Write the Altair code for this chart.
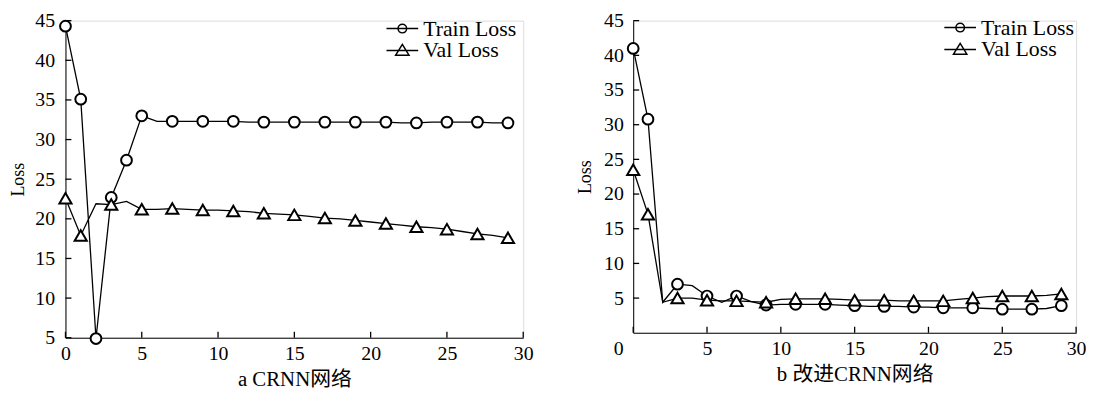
import altair as alt
import pandas as pd

epochs = list(range(30))
series_names = ["Train Loss", "Val Loss"]

a_train = [44.3, 35.1, 4.9, 22.7, 27.4, 33.0, 32.3, 32.3, 32.3, 32.3,
           32.3, 32.3, 32.2, 32.2, 32.2, 32.2, 32.2, 32.2, 32.2, 32.2,
           32.2, 32.2, 32.1, 32.1, 32.2, 32.2, 32.2, 32.2, 32.1, 32.1]
a_val = [22.6, 17.9, 21.9, 21.8, 22.2, 21.2, 21.2, 21.3, 21.2, 21.1,
         21.1, 21.0, 20.9, 20.7, 20.6, 20.5, 20.3, 20.1, 20.0, 19.8,
         19.6, 19.4, 19.2, 19.0, 18.9, 18.7, 18.4, 18.1, 17.9, 17.6]
b_train = [41.0, 30.8, 4.4, 7.0, 6.8, 5.3, 4.4, 5.3, 4.5, 4.0,
           4.1, 4.1, 4.1, 4.1, 4.0, 3.9, 3.8, 3.8, 3.8, 3.7,
           3.7, 3.6, 3.6, 3.6, 3.5, 3.4, 3.4, 3.4, 3.5, 3.9]
b_val = [23.5, 17.1, 4.4, 5.0, 5.0, 4.7, 4.6, 4.6, 4.5, 4.4,
         4.8, 4.9, 4.9, 4.9, 4.8, 4.7, 4.7, 4.7, 4.6, 4.6,
         4.6, 4.6, 4.8, 5.0, 5.2, 5.3, 5.3, 5.3, 5.4, 5.6]

a_train_markers = [0, 1, 2, 3, 4, 5] + list(range(7, 30, 2))
a_val_markers = [0, 1] + list(range(3, 30, 2))
b_train_markers = [0, 1] + list(range(3, 30, 2))
b_val_markers = [0, 1] + list(range(3, 30, 2))

x_ticks = [0, 5, 10, 15, 20, 25, 30]
y_ticks = [5, 10, 15, 20, 25, 30, 35, 40, 45]
a_title = "a CRNN网络"
b_title = "b 改进CRNN网络"

FONT = "Liberation Serif, Noto Sans CJK SC"
BLANK = "\u2800"  # blank glyph used to push the corner "0" to the left

# legend symbols: a short line with the marker on it
r = 0.27
k = round(0.5523 * r, 4)
circle_sym = (f"M-1,0L1,0M{r},0C{r},{k} {k},{r} 0,{r}C{-k},{r} {-r},{k} {-r},0"
              f"C{-r},{-k} {-k},{-r} 0,{-r}C{k},{-r} {r},{-k} {r},0Z")
tri_sym = "M-1,0L1,0M-0.42,0.3L0,-0.38L0.42,0.3Z"


def frame(train, val, tm, vm):
    rows = []
    for e, t in zip(epochs, train):
        rows.append({"epoch": e, "loss": t, "series": series_names[0], "marker": e in tm})
    for e, v in zip(epochs, val):
        rows.append({"epoch": e, "loss": v, "series": series_names[1], "marker": e in vm})
    return pd.DataFrame(rows)


def panel(df, ydom, title, w, h, ylabpad, ytitlepad, legx, legy, shift_zero):
    extra = {}
    if shift_zero:
        extra = dict(labelExpr="datum.value === 0 ? '0" + BLANK * 2 + "' : datum.label")
    xaxis = alt.Axis(values=x_ticks, title=title, grid=False, ticks=False,
                     labelPadding=6, labelFlush=False, labelFontSize=20,
                     titleFontSize=21, titleFontWeight="normal", titlePadding=5,
                     domainColor="black", labelColor="black",
                     titleColor="black", labelFont=FONT, titleFont=FONT, **extra)
    yaxis = alt.Axis(values=y_ticks, title="Loss", grid=False, ticks=False,
                     labelPadding=ylabpad, labelFlush=False, labelFontSize=20,
                     titleFontSize=18, titleFontWeight="normal", titlePadding=ytitlepad,
                     domainColor="black", labelColor="black",
                     titleColor="black", labelFont=FONT, titleFont=FONT)
    xs = alt.Scale(domain=[0, 30], nice=False, zero=False)
    ys = alt.Scale(domain=ydom, nice=False, zero=False)
    x = alt.X("epoch:Q", scale=xs, axis=xaxis)
    y = alt.Y("loss:Q", scale=ys, axis=yaxis)
    base = alt.Chart(df)
    lines = base.mark_line(color="black", strokeWidth=1.3).encode(x=x, y=y, detail="series:N")
    circles = base.transform_filter(
        (alt.datum.marker) & (alt.datum.series == series_names[0])
    ).mark_point(shape="circle", size=118, fill="white", fillOpacity=1, stroke="black",
                 strokeWidth=2, opacity=1).encode(x=x, y=y)
    tris = base.transform_filter(
        (alt.datum.marker) & (alt.datum.series == series_names[1])
    ).mark_point(shape="triangle-up", size=150, fill="white", fillOpacity=1, stroke="black",
                 strokeWidth=2, opacity=1).encode(x=x, y=y)
    # inward tick marks, placed through the scales
    xt = alt.Chart(alt.Data(values=[{"epoch": v} for v in x_ticks])).mark_rule(
        color="black", strokeWidth=1.3, y2Offset=-6
    ).encode(x=alt.X("epoch:Q", scale=xs, axis=xaxis),
             y=alt.Y(datum=ydom[0], scale=ys, axis=yaxis),
             y2=alt.Y2(datum=ydom[0]))
    yt = alt.Chart(alt.Data(values=[{"loss": v} for v in y_ticks])).mark_rule(
        color="black", strokeWidth=1.3, x2Offset=6
    ).encode(y=alt.Y("loss:Q", scale=ys, axis=yaxis),
             x=alt.X(datum=0, scale=xs, axis=xaxis),
             x2=alt.X2(datum=0))
    legend = base.transform_filter("datum.epoch < 0").mark_point(
        filled=False, color="black", strokeWidth=1.5, size=1024
    ).encode(
        x=x, y=y,
        shape=alt.Shape("series:N",
                        scale=alt.Scale(domain=series_names, range=[circle_sym, tri_sym]),
                        legend=alt.Legend(title=None, orient="none", legendX=legx, legendY=legy,
                                          symbolSize=1024, symbolStrokeWidth=1.5,
                                          symbolStrokeColor="black", symbolFillColor="transparent",
                                          symbolOpacity=1,
                                          labelFont=FONT, labelFontSize=22, labelColor="black",
                                          labelOffset=4, clipHeight=20, rowPadding=0,
                                          padding=0)),
    )
    return alt.layer(lines, xt, yt, circles, tris, legend).properties(width=w, height=h)


left = panel(frame(a_train, a_val, a_train_markers, a_val_markers), [5, 45], a_title,
             462, 320, 11, 7, 323, -2, False)
right = panel(frame(b_train, b_val, b_train_markers, b_val_markers), [0, 45], b_title,
              447, 315, 10, 9, 313, -3, True)

chart = alt.hconcat(left, right, spacing=42).resolve_scale(
    shape="independent"
).resolve_legend(shape="independent").properties(
    padding={"left": 1, "top": 0, "right": 0, "bottom": 0}
).configure_view(strokeWidth=0).configure(font=FONT, background="white")

chart.save("out.html", embed_options={"renderer": "svg", "actions": False})
